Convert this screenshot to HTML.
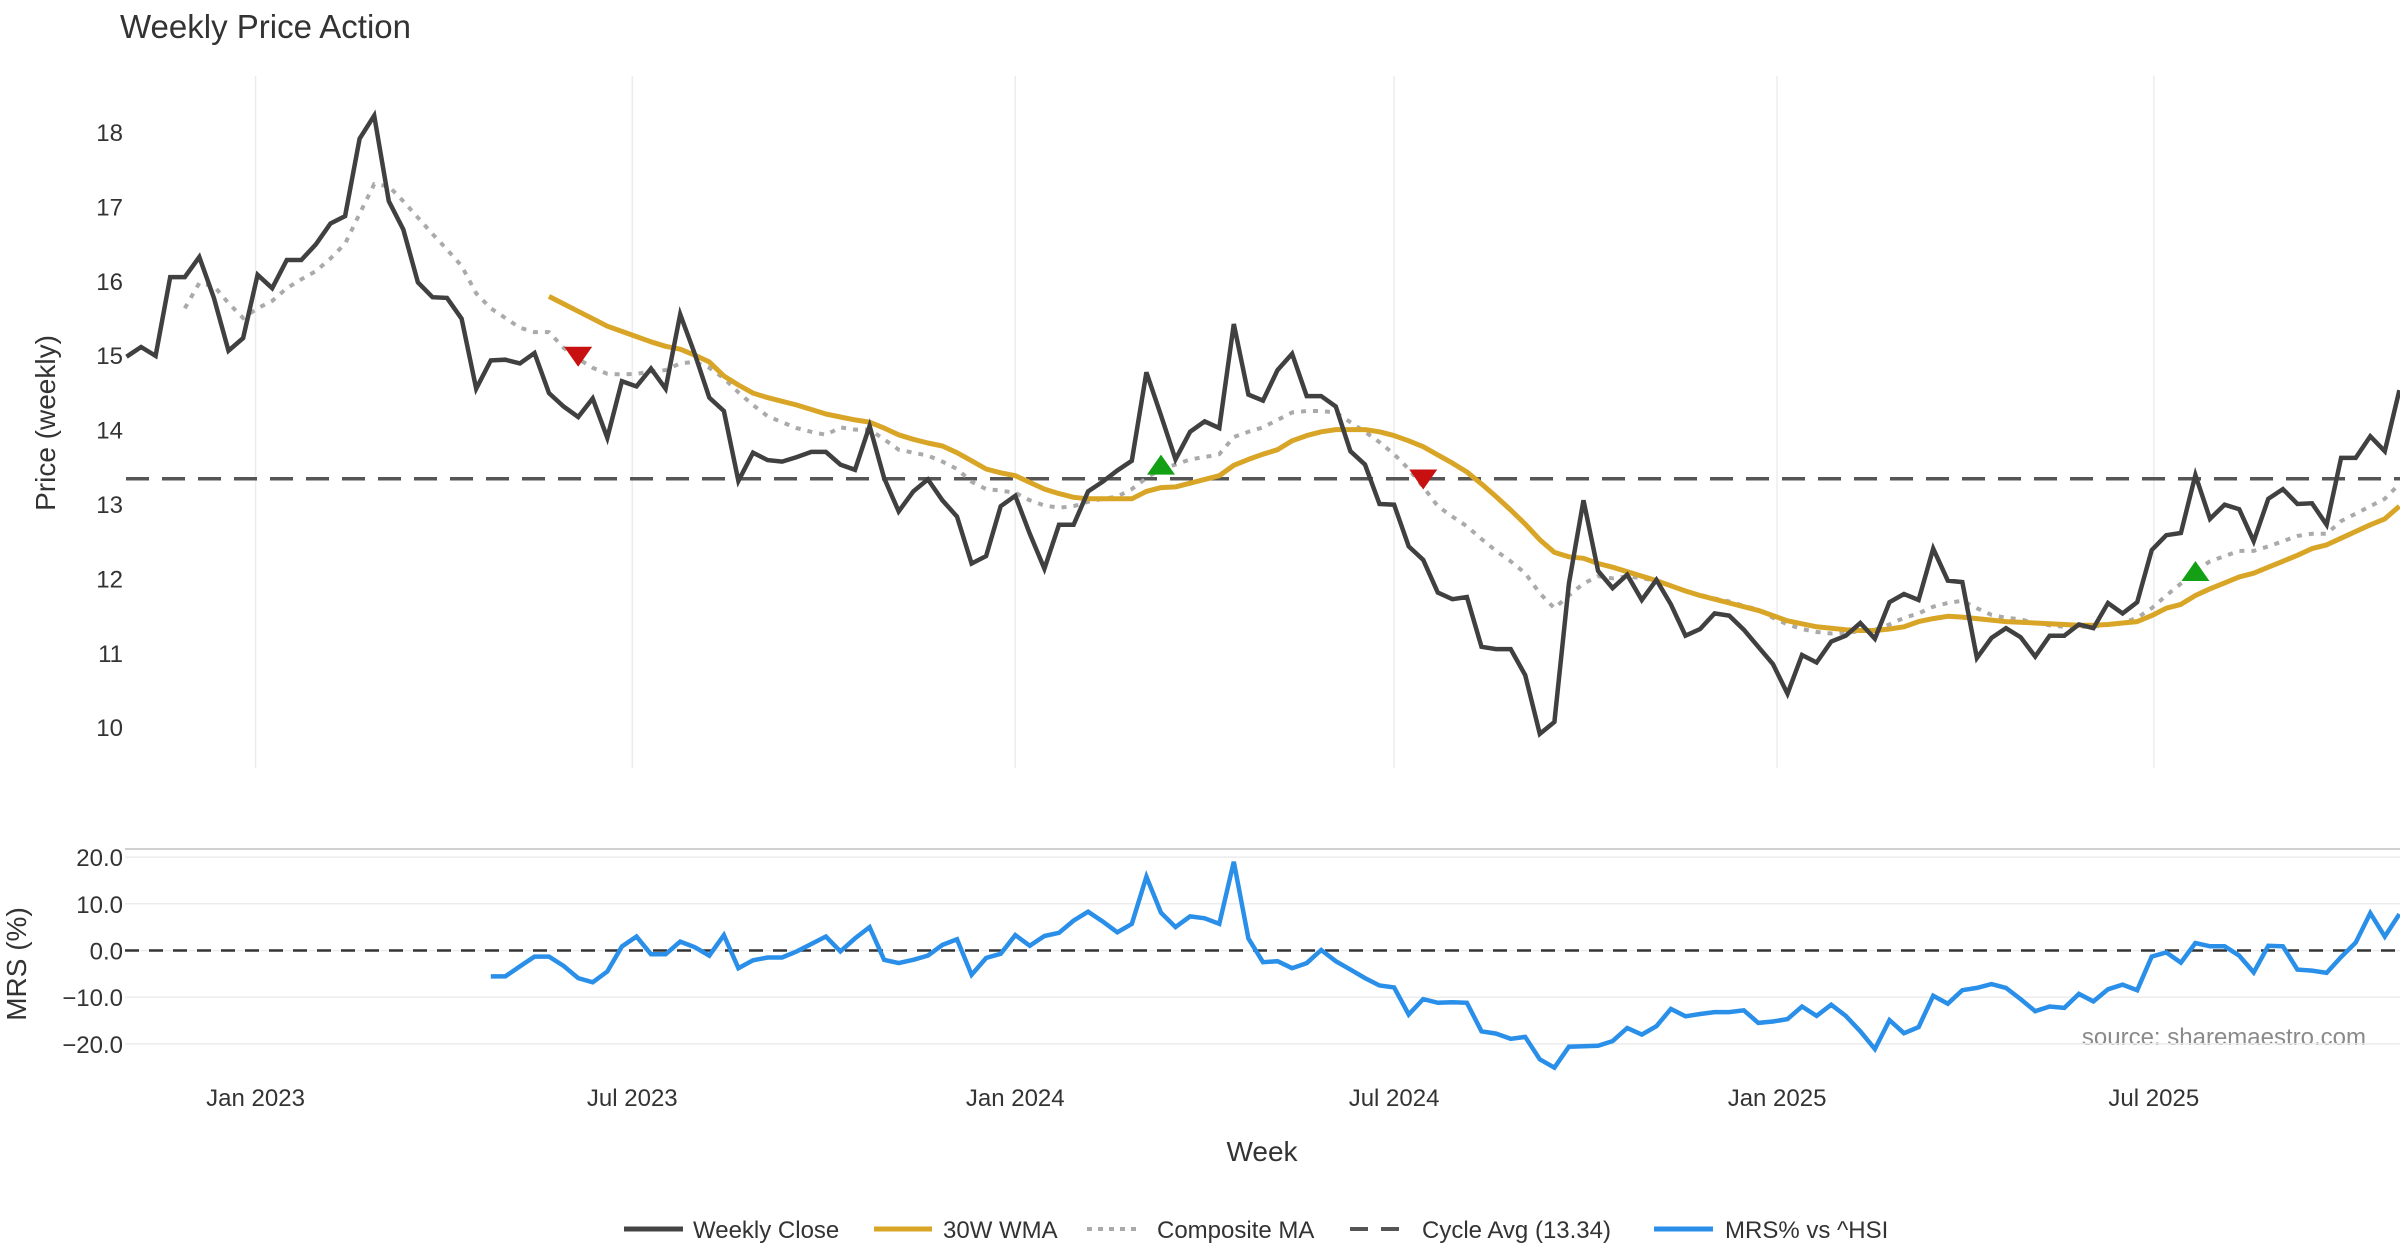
<!DOCTYPE html>
<html><head><meta charset="utf-8"><title>Weekly Price Action</title>
<style>
html,body{margin:0;padding:0;background:#fff;}
svg{display:block;font-family:"Liberation Sans","DejaVu Sans",sans-serif;}
</style></head>
<body>
<svg id="chart" width="2400" height="1260" viewBox="0 0 2400 1260" xmlns="http://www.w3.org/2000/svg">
<rect x="0" y="0" width="2400" height="1260" fill="#fff"/>
<text x="120" y="38" font-size="33" fill="#333">Weekly Price Action</text>
<text transform="translate(55,423) rotate(-90)" text-anchor="middle" font-size="28" fill="#333">Price (weekly)</text>
<text transform="translate(26,964) rotate(-90)" text-anchor="middle" font-size="28" fill="#333">MRS (%)</text>
<text x="1262" y="1161" text-anchor="middle" font-size="28" fill="#333">Week</text>
<text x="2366" y="1045" text-anchor="end" font-size="24" fill="#8a8a8a">source: sharemaestro.com</text>
<g id="grid"></g>
<g id="marks"></g>
<g id="axes"></g>
<g id="legend">
  <g>
    <line x1="624" y1="1229" x2="683" y2="1229" stroke="#444" stroke-width="5"/>
    <text x="693" y="1238" font-size="24" fill="#333">Weekly Close</text>
  </g>
  <g>
    <line x1="874" y1="1229" x2="932" y2="1229" stroke="#D9A526" stroke-width="5"/>
    <text x="943" y="1238" font-size="24" fill="#333">30W WMA</text>
  </g>
  <g>
    <line x1="1087" y1="1229" x2="1142" y2="1229" stroke="#aaa" stroke-width="4" stroke-dasharray="5,6"/>
    <text x="1157" y="1238" font-size="24" fill="#333">Composite MA</text>
  </g>
  <g>
    <line x1="1350" y1="1229" x2="1405" y2="1229" stroke="#555" stroke-width="4" stroke-dasharray="18,13"/>
    <text x="1422" y="1238" font-size="24" fill="#333">Cycle Avg (13.34)</text>
  </g>
  <g>
    <line x1="1654" y1="1229" x2="1713" y2="1229" stroke="#2A8FE8" stroke-width="5"/>
    <text x="1725" y="1238" font-size="24" fill="#333">MRS% vs ^HSI</text>
  </g>
</g>
</svg>
<script>
const startDate = "2022-10-31";
const closeValues = [14.98,15.11,14.99,16.05,16.05,16.32,15.77,15.06,15.23,16.08,15.9,16.28,16.28,16.49,16.77,16.87,17.91,18.22,17.07,16.69,15.98,15.78,15.77,15.49,14.55,14.93,14.94,14.89,15.03,14.49,14.31,14.17,14.42,13.89,14.65,14.58,14.82,14.55,15.55,15.02,14.43,14.25,13.31,13.69,13.59,13.57,13.63,
13.7,13.7,13.53,13.46,14.05,13.35,12.9,13.17,13.33,13.05,12.83,12.2,12.3,12.97,13.11,12.6,12.13,12.72,12.72,13.17,13.3,13.45,13.58,14.77,14.19,13.6,13.97,14.11,14.02,15.42,14.47,14.39,14.8,15.02,14.45,14.45,14.31,13.71,13.53,13.0,12.99,12.43,12.25,11.81,11.72,11.75,11.08,11.05,11.05,10.7,9.91,10.07,11.93,13.05,12.1,
11.87,12.05,11.71,11.98,11.65,11.23,11.32,11.53,11.5,11.31,11.08,10.85,10.45,10.97,10.87,11.15,11.23,11.4,11.19,11.68,11.79,11.71,12.4,11.97,11.95,10.93,11.2,11.33,11.21,10.95,11.23,11.23,11.38,11.33,11.67,11.53,11.68,12.38,12.58,12.61,13.39,12.8,12.99,12.93,12.5,13.07,13.2,13.0,13.01,12.72,13.62,13.62,13.91,13.71,14.53];
const wmaStart = 29;
const wmaValues = [15.79,15.69,15.59,15.49,15.39,15.32,15.25,15.18,15.12,15.08,15.0,14.91,14.72,14.6,14.49,14.43,
14.38,14.33,14.27,14.21,14.17,14.13,14.1,14.02,13.93,13.87,13.82,13.78,13.69,13.58,13.47,13.42,13.38,13.29,13.2,13.14,13.09,13.07,13.07,13.07,13.07,13.17,13.22,13.23,13.28,13.33,13.38,13.52,13.6,13.67,13.73,13.85,13.92,13.97,14.0,14.0,14.0,13.97,13.92,13.85,13.77,13.66,13.55,13.43,13.27,13.1,12.92,12.73,12.52,12.35,12.29,12.27,12.2,
12.15,12.09,12.03,11.97,11.9,11.83,11.77,11.72,11.67,11.62,11.57,11.5,11.43,11.39,11.35,11.33,11.31,11.3,11.3,11.32,11.35,11.42,11.46,11.49,11.48,11.46,11.44,11.42,11.41,11.4,11.39,11.38,11.37,11.37,11.38,11.4,11.42,11.5,11.6,11.65,11.77,11.86,11.94,12.02,12.07,12.15,12.23,12.31,12.4,12.45,12.54,12.63,12.72,12.8,12.97];
const compStart = 4;
const compValues = [15.63,15.97,15.93,15.7,15.5,15.63,15.73,15.9,16.02,16.13,16.3,16.5,16.9,17.3,17.27,17.07,16.85,16.63,16.42,16.2,15.83,15.63,15.5,15.37,15.31,15.31,15.1,14.95,14.83,14.75,14.74,14.75,14.78,14.8,14.89,14.91,14.83,14.69,14.5,14.33,14.18,14.1,14.02,
13.97,13.93,14.03,14.0,14.0,13.87,13.73,13.69,13.65,13.57,13.47,13.3,13.2,13.18,13.15,13.05,12.98,12.95,12.97,13.03,13.07,13.1,13.2,13.35,13.47,13.53,13.6,13.63,13.67,13.9,13.97,14.03,14.13,14.23,14.25,14.25,14.23,14.1,13.97,13.83,13.67,13.47,13.23,12.97,12.83,12.7,12.53,12.37,12.23,12.07,11.8,11.6,11.77,11.93,12.03,
12.0,12.03,12.0,11.97,11.9,11.83,11.78,11.73,11.69,11.63,11.58,11.47,11.38,11.32,11.28,11.26,11.27,11.29,11.31,11.38,11.47,11.53,11.62,11.67,11.7,11.6,11.51,11.47,11.45,11.4,11.37,11.35,11.35,11.35,11.38,11.4,11.47,11.6,11.77,11.93,12.1,12.23,12.3,12.37,12.37,12.43,12.5,12.57,12.6,12.6,12.77,12.87,12.97,13.07,13.27];
const cycleAvg = 13.34;
const mrsStart = 25;
const mrsValues = [-5.55,-5.55,-3.4,-1.3,-1.3,-3.3,-5.9,-6.8,-4.5,0.85,3.0,-0.8,-0.8,1.9,0.7,-1.1,3.3,-3.8,-2.1,-1.5,-1.5,-0.2,
1.4,3.0,-0.2,2.6,5.0,-2.0,-2.7,-2.0,-1.1,1.2,2.4,-5.2,-1.6,-0.7,3.3,1.0,3.1,3.8,6.4,8.3,6.2,3.9,5.7,15.8,8.1,5.0,7.3,6.9,5.7,19.0,2.6,-2.5,-2.3,-3.8,-2.7,0.1,-2.3,-4.1,-5.9,-7.5,-7.9,-13.7,-10.4,-11.2,-11.1,-11.2,-17.3,-17.8,-18.9,-18.5,-23.3,-25.1,-20.6,-20.5,-20.4,
-19.4,-16.6,-18.0,-16.2,-12.5,-14.1,-13.6,-13.2,-13.2,-12.8,-15.5,-15.2,-14.7,-12.0,-14.0,-11.6,-14.0,-17.3,-21.1,-14.9,-17.7,-16.4,-9.7,-11.4,-8.5,-8.0,-7.2,-8.0,-10.4,-13.0,-12.0,-12.3,-9.3,-10.9,-8.3,-7.3,-8.5,-1.3,-0.4,-2.6,1.6,0.9,0.9,-1.1,-4.7,1.0,0.9,-4.1,-4.3,-4.8,-1.4,1.7,8.0,3.0,7.8];
const signalIdx = [31,71,89,142];
const signalPrice = [14.98,13.53,13.33,12.1];
const signalType = ["sell","buy","sell","buy"];
const priceTicks = [10,11,12,13,14,15,16,17,18];
const mrsTicks = [20,10,0,-10,-20];
const dateTicks = ["2023-01-01","2023-07-01","2024-01-01","2024-07-01","2025-01-01","2025-07-01"];
const dateTickLabels = ["Jan 2023","Jul 2023","Jan 2024","Jul 2024","Jan 2025","Jul 2025"];

const NS="http://www.w3.org/2000/svg";
const X0=126.5, XSTEP=14.57;
const DAY=86400000;
const t0=Date.parse(startDate+"T00:00:00Z");
function xIdx(i){return X0+i*XSTEP;}
function xDate(s){return X0+(Date.parse(s+"T00:00:00Z")-t0)/DAY/7*XSTEP;}
function yPrice(v){return 132+(18-v)*74.4;}
function yMrs(v){return 950.5-v*4.67;}
function mk(tag,attrs,parent){const e=document.createElementNS(NS,tag);for(const k in attrs)e.setAttribute(k,attrs[k]);parent.appendChild(e);return e;}
const gridG=document.getElementById('grid'),marksG=document.getElementById('marks'),axesG=document.getElementById('axes');

dateTicks.forEach((d,k)=>{
  const x=xDate(d);
  const g=mk('line',{x1:x,y1:76,x2:x,y2:768,stroke:'#ececec','stroke-width':1.5},gridG);
  
  
  const t=mk('text',{x:x,y:1106,'text-anchor':'middle','font-size':24,fill:'#333'},axesG);
  t.textContent=dateTickLabels[k];
  
  
});
priceTicks.forEach(v=>{
  const t=mk('text',{x:123,y:yPrice(v)+9,'text-anchor':'end','font-size':24,fill:'#333'},axesG);
  t.textContent=String(v);
  
  
});
const mrsTop=mk('line',{x1:125,y1:849,x2:2400,y2:849,stroke:'#d0d0d0','stroke-width':2},gridG);


mrsTicks.forEach(v=>{
  const y=yMrs(v);
  const g=mk('line',{x1:125,y1:y,x2:2400,y2:y,stroke:'#ececec','stroke-width':1.5},gridG);
  
  
  const t=mk('text',{x:123,y:y+9,'text-anchor':'end','font-size':24,fill:'#333'},axesG);
  t.textContent=v.toFixed(1).replace('-','\u2212');
  
  
});
const zl=mk('line',{x1:125,y1:yMrs(0),x2:2400,y2:yMrs(0),stroke:'#333','stroke-width':2.5,'stroke-dasharray':'14,10'},marksG);



function pathD(vals,start,yf){return vals.map((v,k)=>(k?'L':'M')+xIdx(start+k).toFixed(1)+','+yf(v).toFixed(1)).join(' ');}
const ca=mk('line',{x1:126,y1:yPrice(cycleAvg),x2:2400,y2:yPrice(cycleAvg),stroke:'#555','stroke-width':3.5,'stroke-dasharray':'23,13'},marksG);


const cp=mk('path',{d:pathD(compValues,compStart,yPrice),fill:'none',stroke:'#aaa','stroke-width':4,'stroke-dasharray':'5,7'},marksG);


const wp=mk('path',{d:pathD(wmaValues,wmaStart,yPrice),fill:'none',stroke:'#D9A526','stroke-width':5,'stroke-linejoin':'round'},marksG);


const clp=mk('path',{d:pathD(closeValues,0,yPrice),fill:'none',stroke:'#404040','stroke-width':4.5},marksG);


const mp=mk('path',{d:pathD(mrsValues,mrsStart,yMrs),fill:'none',stroke:'#2A8FE8','stroke-width':4.5},marksG);


signalIdx.forEach((i,k)=>{
  const x=xIdx(i),y=yPrice(signalPrice[k]),h=10;
  let pts;
  if(signalType[k]==='sell') pts=`${x-14},${y-h} ${x+14},${y-h} ${x},${y+h}`;
  else pts=`${x-14},${y+h} ${x+14},${y+h} ${x},${y-h}`;
  const p=mk('polygon',{points:pts,fill:signalType[k]==='sell'?'#C81010':'#14A014'},marksG);
  
  
});
</script>
</body></html>
